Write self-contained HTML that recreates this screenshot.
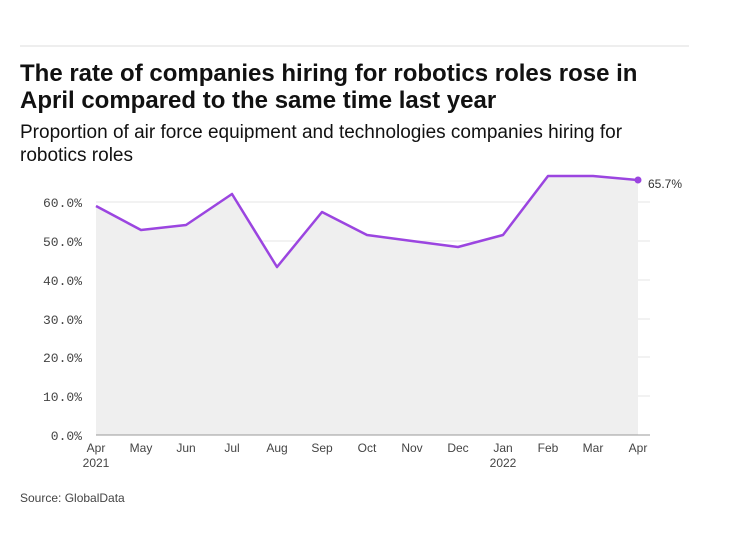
<!DOCTYPE html>
<html><head><style>
body{margin:0;background:#fff;width:735px;height:551px;overflow:hidden;font-family:"Liberation Sans",sans-serif;}
</style></head><body>
<svg width="735" height="551" xmlns="http://www.w3.org/2000/svg">
<line x1="20" y1="46" x2="689" y2="46" stroke="#ddd" stroke-width="1"/>
<text x="20" y="81" font-size="24" font-weight="bold" fill="#111">The rate of companies hiring for robotics roles rose in</text>
<text x="20" y="108" font-size="24" font-weight="bold" fill="#111">April compared to the same time last year</text>
<text x="20" y="138" font-size="19" fill="#111">Proportion of air force equipment and technologies companies hiring for</text>
<text x="20" y="161" font-size="19" fill="#111">robotics roles</text>
<g stroke="#e6e6e6" stroke-width="1">
<line x1="96" y1="202" x2="650" y2="202"/><line x1="96" y1="241" x2="650" y2="241"/>
<line x1="96" y1="280" x2="650" y2="280"/><line x1="96" y1="319" x2="650" y2="319"/>
<line x1="96" y1="357" x2="650" y2="357"/><line x1="96" y1="396" x2="650" y2="396"/>
</g>
<polygon fill="#efefef" points="96,435 96,206 141,230 186,225 232,194 277,267 322,212 367,235 412,241 458,247 503,235 548,176 593,176 638,180 638,435"/>
<line x1="96" y1="435" x2="650" y2="435" stroke="#999" stroke-width="1"/>
<polyline fill="none" stroke="#9b45e0" stroke-width="2.5" stroke-linejoin="round" points="96,206 141,230 186,225 232,194 277,267 322,212 367,235 412,241 458,247 503,235 548,176 593,176 638,180"/>
<circle cx="638" cy="180" r="3.5" fill="#9b45e0"/>
<text x="648" y="188" font-size="12" fill="#333">65.7%</text>
<g font-family="Liberation Mono, monospace" font-size="13" fill="#444" text-anchor="end">
<text x="82" y="207">60.0%</text><text x="82" y="246">50.0%</text><text x="82" y="285">40.0%</text>
<text x="82" y="324">30.0%</text><text x="82" y="362">20.0%</text><text x="82" y="401">10.0%</text><text x="82" y="440">0.0%</text>
</g>
<g font-size="12" fill="#444" text-anchor="middle">
<text x="96" y="452">Apr</text><text x="96" y="467">2021</text>
<text x="141" y="452">May</text><text x="186" y="452">Jun</text><text x="232" y="452">Jul</text>
<text x="277" y="452">Aug</text><text x="322" y="452">Sep</text><text x="367" y="452">Oct</text>
<text x="412" y="452">Nov</text><text x="458" y="452">Dec</text><text x="503" y="452">Jan</text><text x="503" y="467">2022</text>
<text x="548" y="452">Feb</text><text x="593" y="452">Mar</text><text x="638" y="452">Apr</text>
</g>
<text x="20" y="502" font-size="12" fill="#444">Source: GlobalData</text>
</svg>
</body></html>
